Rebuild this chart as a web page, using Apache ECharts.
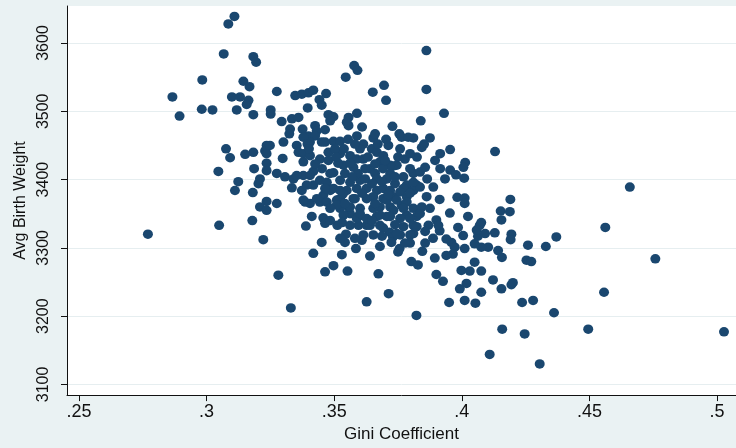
<!DOCTYPE html>
<html><head><meta charset="utf-8">
<script src="https://cdn.jsdelivr.net/npm/echarts@6/dist/echarts.min.js"></script>
<style>html,body{margin:0;padding:0;background:#eaf2f3}#c{width:736px;height:448px}</style>
</head><body><div id="c"></div>
<script>
const gini = [
0.277,0.2866,0.2894,0.2981,0.3023,0.2983,0.3109,0.3085,0.3067,0.3183,0.3194,0.3099,0.3131,0.3118,0.3144,0.3168,0.3164,0.3157,0.3183,0.3275,
0.3251,0.3251,0.3347,0.3373,0.3399,0.3418,0.3468,0.3396,0.3442,0.3451,0.3477,0.3497,0.3545,0.3578,0.3591,0.3556,0.3589,0.3556,0.3294,0.3334,
0.3360,0.3327,0.3324,0.3376,0.3425,0.3431,0.3464,0.3399,0.3425,0.3405,0.3451,0.3497,0.3523,0.3589,0.3614,0.3353,0.3301,0.3360,0.3379,0.3379,
0.3298,0.3235,0.3229,0.3248,0.3235,0.3183,0.3151,0.3076,0.3092,0.3046,0.3186,0.3235,0.3235,0.3275,0.3307,0.3340,0.3334,0.3373,0.3418,0.3444,
0.3477,0.3477,0.3523,0.3562,0.3124,0.3111,0.3209,0.3203,0.3181,0.3235,0.3209,0.3235,0.3275,0.3386,0.3405,0.3412,0.3457,0.3418,0.3444,0.3457,
0.3444,0.3049,0.3179,0.3222,0.3281,0.3330,0.3389,0.3451,0.3418,0.3497,0.3464,0.3552,0.3530,0.3542,0.3546,0.3512,0.3585,0.3608,0.3595,0.3627,
0.3640,0.3673,0.3627,0.3653,0.3679,0.3595,0.3562,0.3555,0.3523,0.3510,0.3432,0.3379,0.3471,0.3484,0.3695,0.3651,0.3703,0.3861,0.3861,0.3930,
0.3839,0.3728,0.3755,0.3764,0.3653,0.3810,0.3875,0.3843,0.3852,0.3954,0.4130,0.3895,0.4013,0.4006,0.3954,0.3977,0.4009,0.3647,0.3667,0.3692,
0.3712,0.3679,0.3640,0.3732,0.3745,0.3810,0.3836,0.3856,0.3771,0.3719,0.3660,0.3784,0.3823,0.3888,0.4658,0.3913,0.3982,0.4011,0.4011,0.3953,
0.4024,0.4190,0.4152,0.4188,0.4155,0.4076,0.3900,0.4562,0.4370,0.4329,0.4259,0.4758,0.4253,0.4272,0.4194,0.4191,0.4129,0.4142,0.4157,0.4103,
0.4076,0.4050,0.4063,0.4070,0.4011,0.4005,0.3985,0.3959,0.3972,0.3965,0.3939,0.3894,0.3913,0.3939,0.4050,0.3998,0.4031,0.4076,0.3900,0.3926,
0.4018,0.3992,0.4076,0.4122,0.4155,0.4194,0.4200,0.4011,0.4053,0.3950,0.4236,0.4279,0.4361,0.4557,0.3822,0.4158,0.4246,0.4495,0.5027,0.4109,
0.4305,0.3713,0.3750,0.3756,0.3802,0.3828,0.3845,0.3717,0.3730,0.3724,0.3667,0.3692,0.3719,0.3771,0.3810,0.3836,0.3653,0.3692,0.3731,0.3784,
0.3862,0.3679,0.3719,0.3764,0.3810,0.3843,0.3875,0.3667,0.3706,0.3784,0.3823,0.3640,0.3679,0.3771,0.3810,0.3869,0.3908,0.3758,0.3810,0.3856,
0.4058,0.4091,0.3484,0.3549,0.3790,0.3379,0.3464,0.3405,0.3588,0.3614,0.3536,0.3575,0.3621,0.3497,0.3379,0.3719,0.3797,0.3810,0.3706,0.3667,
0.3601,0.3562,0.3523,0.3471,0.3392,0.3497,0.3549,0.3588,0.3627,0.3758,0.3797,0.3523,0.3575,0.3627,0.3706,0.3745,0.3784,0.3510,0.3562,0.3601,
0.3653,0.3732,0.3771,0.3536,0.3588,0.3627,0.3679,0.3719,0.3758,0.3562,0.3692,0.3823,0.3614,0.3745,0.3797,0.3395,0.3401,0.3353,0.3405,0.3542,
0.3593,0.3648,0.3691,0.3562,0.3515,0.3738,0.3534,0.3601,0.3503,0.3671,0.3750,0.3777,0.3824,0.3915,0.3934,0.3864,0.3915,0.3484,0.3464,0.3797,
0.3856,0.3887,0.3507,0.3538,0.3581,0.3632,0.3660,0.3699,0.3758,0.3797,0.3484,0.3570,0.3621,0.3687,0.3738,0.3523,0.3609,0.3660,0.3711,0.3542,
0.3581,0.3484,0.3531,0.3648,0.3738,0.3797,0.3836,0.3452,0.3425,0.3464,0.3554,0.3609,0.3660,0.3703,0.3601,0.3687,0.3581,0.3777,0.3523
];
const birthWeight = [
3320,3521,3493,3503,3502,3546,3639,3628,3584,3580,3572,3521,3521,3502,3544,3536,3516,3510,3495,3529,
3502,3496,3523,3525,3527,3531,3526,3505,3517,3509,3495,3492,3550,3567,3560,3491,3497,3479,3485,3489,
3491,3474,3467,3474,3479,3471,3473,3464,3464,3455,3455,3456,3456,3464,3452,3450,3455,3440,3438,3426,
3431,3450,3442,3450,3438,3440,3437,3445,3432,3412,3416,3424,3413,3409,3404,3401,3388,3384,3412,3430,
3428,3440,3438,3435,3397,3384,3401,3394,3381,3368,3360,3355,3365,3367,3365,3346,3344,3392,3399,3377,
3367,3333,3340,3312,3260,3212,3332,3308,3292,3274,3265,3266,3290,3308,3320,3333,3299,3311,3333,3221,
3288,3262,3333,3319,3302,3346,3350,3360,3358,3370,3372,3370,3367,3384,3538,3528,3516,3532,3589,3497,
3486,3478,3467,3462,3461,3461,3461,3447,3452,3444,3441,3428,3425,3418,3414,3407,3402,3445,3440,3435,
3450,3426,3416,3420,3421,3409,3411,3418,3404,3409,3409,3392,3392,3389,3389,3371,3374,3373,3365,3351,
3346,3371,3354,3353,3341,3337,3341,3330,3316,3302,3304,3284,3282,3280,3320,3312,3322,3296,3286,3301,
3301,3306,3317,3333,3299,3318,3330,3308,3301,3291,3289,3285,3325,3313,3279,3267,3266,3266,3261,3251,
3248,3240,3235,3253,3240,3246,3249,3223,3219,3220,3220,3223,3205,3235,3201,3181,3174,3181,3177,3144,
3130,3233,3294,3299,3280,3275,3295,3323,3316,3308,3384,3387,3384,3387,3384,3389,3375,3372,3375,3375,
3375,3360,3360,3362,3358,3360,3358,3346,3346,3348,3346,3333,3333,3331,3333,3333,3333,3319,3321,3324,
3326,3321,3486,3484,3462,3462,3455,3435,3430,3430,3421,3418,3416,3410,3406,3421,3416,3396,3401,3401,
3399,3396,3399,3396,3392,3387,3384,3387,3387,3382,3380,3372,3372,3372,3370,3370,3367,3363,3360,3358,
3358,3355,3358,3348,3343,3343,3348,3346,3343,3333,3329,3331,3319,3321,3319,3452,3445,3406,3406,3409,
3409,3394,3416,3424,3424,3394,3379,3445,3445,3452,3433,3430,3433,3416,3401,3401,3438,3358,3336,3307,
3307,3314,3433,3445,3452,3433,3423,3428,3445,3438,3409,3404,3401,3397,3404,3384,3380,3365,3378,3365,
3372,3340,3337,3340,3334,3343,3350,3416,3423,3387,3459,3477,3467,3459,3350,3317,3314,3307,3314
];
const xTicks = [0.25, 0.3, 0.35, 0.4, 0.45, 0.5];
const xTickLabels = ['.25', '.3', '.35', '.4', '.45', '.5'];
const yTicks = [3100, 3200, 3300, 3400, 3500, 3600];
const yTickLabels = ['3100', '3200', '3300', '3400', '3500', '3600'];

const points = gini.map((g, i) => [g, birthWeight[i]]);
const lookup = (ticks, labels) => v => {
  const i = ticks.findIndex(t => Math.abs(t - v) < 1e-9);
  return i >= 0 ? labels[i] : '';
};
const font = 'Liberation Sans, Arial, sans-serif';
const chart = echarts.init(document.getElementById('c'), null, {renderer: 'canvas'});
chart.setOption({
  animation: false,
  backgroundColor: '#eaf2f3',
  grid: {left: 67, right: 0, top: 6, bottom: 50, show: true, backgroundColor: '#ffffff', borderWidth: 0},
  xAxis: {
    type: 'value', min: 0.2453, max: 0.5074,
    name: 'Gini Coefficient', nameLocation: 'middle', nameGap: 27,
    nameTextStyle: {fontFamily: font, fontSize: 17, color: '#111'},
    axisLine: {show: true, onZero: false, lineStyle: {color: '#111', width: 1}},
    axisTick: {show: true, length: 6, customValues: xTicks, lineStyle: {color: '#111', width: 1}},
    axisLabel: {customValues: xTicks, formatter: lookup(xTicks, xTickLabels), margin: 8,
      fontFamily: font, fontSize: 18, color: '#111'},
    splitLine: {show: false}
  },
  yAxis: {
    type: 'value', min: 3084.4, max: 3654.2,
    name: 'Avg Birth Weight', nameLocation: 'middle', nameGap: 37,
    nameTextStyle: {fontFamily: font, fontSize: 16, color: '#111'},
    axisLine: {show: true, onZero: false, lineStyle: {color: '#111', width: 1}},
    axisTick: {show: true, length: 6, customValues: yTicks, lineStyle: {color: '#111', width: 1}},
    axisLabel: {customValues: yTicks, formatter: lookup(yTicks, yTickLabels), rotate: 90, margin: 15,
      fontFamily: font, fontSize: 16, color: '#111'},
    splitLine: {show: true, lineStyle: {color: '#e6eef0', width: 1}}
  },
  series: [{
    type: 'scatter', data: points, symbol: 'circle', symbolSize: [10, 9.5],
    itemStyle: {color: '#1a476f', opacity: 1}
  }]
});
</script></body></html>
